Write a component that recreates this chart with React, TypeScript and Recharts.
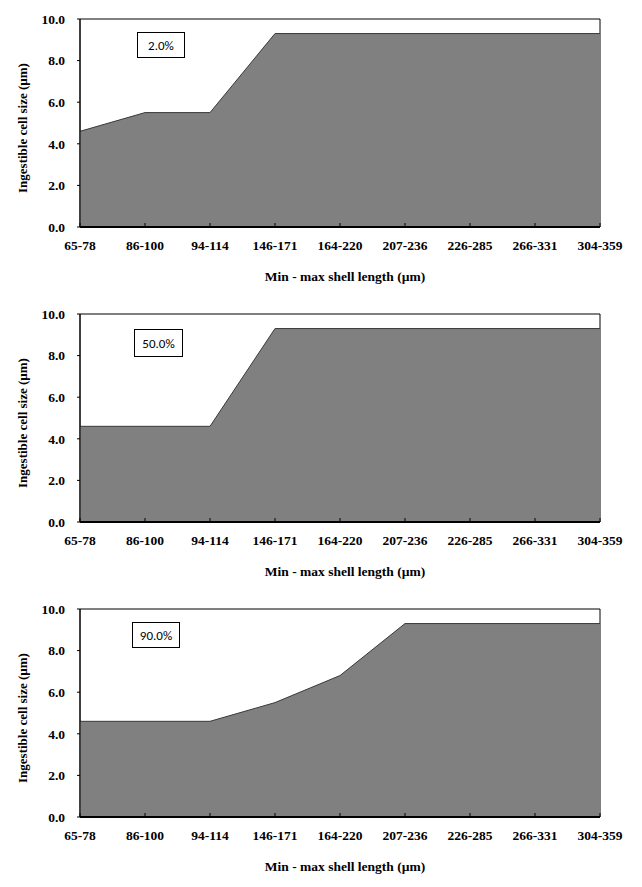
import React from "react";
import { AreaChart, Area, XAxis, YAxis, ReferenceArea } from "recharts";

const categories = ["65-78", "86-100", "94-114", "146-171", "164-220", "207-236", "226-285", "266-331", "304-359"];
const values2 = [4.6, 5.5, 5.5, 9.3, 9.3, 9.3, 9.3, 9.3, 9.3];
const values50 = [4.6, 4.6, 4.6, 9.3, 9.3, 9.3, 9.3, 9.3, 9.3];
const values90 = [4.6, 4.6, 4.6, 5.5, 6.8, 9.3, 9.3, 9.3, 9.3];
const yTicks = [0, 2, 4, 6, 8, 10];
const panelLabels = ["2.0%", "50.0%", "90.0%"];
const panelSeries = [values2, values50, values90];
const xTitle = "Min - max shell length (\u00b5m)";
const yTitle = "Ingestible cell size (\u00b5m)";

const serif = "Liberation Serif, DejaVu Serif, serif";
const boxPos = [
  { left: 137, top: 32, width: 48, height: 26 },
  { left: 134, top: 34, width: 49, height: 28 },
  { left: 132, top: 32, width: 48, height: 26 },
];

const textStyle = { fontFamily: serif, fontWeight: 700, fontSize: 13.5 };

const XTick = (props: any) => {
  const { x, y, payload } = props;
  return (
    <text x={x} y={y} dy="0.71em" textAnchor="middle" style={textStyle} fill="#000">
      {payload.value}
    </text>
  );
};

const YTick = (props: any) => {
  const { x, y, payload } = props;
  return (
    <text x={x} y={y} dy="0.355em" textAnchor="end" style={textStyle} fill="#000">
      {Number(payload.value).toFixed(1)}
    </text>
  );
};

const YTitle = (props: any) => {
  const vb = props.viewBox || {};
  const cx = 22;
  const cy = vb.y + vb.height / 2 + 5;
  return (
    <text
      x={cx}
      y={cy}
      transform={`rotate(-90, ${cx}, ${cy})`}
      textAnchor="middle"
      dominantBaseline="central"
      style={{ fontFamily: serif, fontWeight: 700, fontSize: 13 }}
      fill="#000"
    >
      {yTitle}
    </text>
  );
};

const XTitle = (props: any) => {
  const vb = props.viewBox || {};
  const cx = vb.x + vb.width / 2 + 5;
  const cy = vb.y + 49;
  return (
    <text x={cx} y={cy} textAnchor="middle" dominantBaseline="central" style={{ fontFamily: serif, fontWeight: 700, fontSize: 13.5 }} fill="#000">
      {xTitle}
    </text>
  );
};

function Panel({ idx }: { idx: number }) {
  const data = categories.map((c, i) => ({ cat: c, v: panelSeries[idx][i] }));
  const b = boxPos[idx];
  const h = idx === 2 ? 297 : 295;
  return (
    <div style={{ position: "relative", width: 642, height: h }}>
      <AreaChart width={642} height={h} data={data} margin={{ top: 19, right: 42, left: 0, bottom: 0 }}>
        <ReferenceArea x1={categories[0]} x2={categories[categories.length - 1]} y1={0} y2={10} fill="#fff" fillOpacity={0} stroke="#000" strokeWidth={1} ifOverflow="visible" />
        <Area
          type="linear"
          dataKey="v"
          stroke="#3a3a3a"
          strokeWidth={1}
          fill="#808080"
          fillOpacity={1}
          isAnimationActive={false}
          dot={false}
          activeDot={false}
        />
        <XAxis
          dataKey="cat"
          height={h - 227}
          interval={0}
          axisLine={{ stroke: "#000", strokeWidth: 2 }}
          tickLine={{ stroke: "#000" }}
          tickSize={-4}
          tickMargin={17}
          tick={<XTick />}
          label={<XTitle />}
        />
        <YAxis
          width={80}
          domain={[0, 10]}
          ticks={yTicks}
          interval={0}
          axisLine={{ stroke: "#000", strokeWidth: 1 }}
          tickLine={{ stroke: "#000" }}
          tickSize={3}
          tickMargin={12}
          tick={<YTick />}
          label={<YTitle />}
        />
      </AreaChart>
      <div
        style={{
          position: "absolute",
          left: b.left,
          top: b.top,
          width: b.width,
          height: b.height,
          boxSizing: "border-box",
          border: "1px solid #000",
          background: "#fff",
          display: "flex",
          alignItems: "center",
          justifyContent: "center",
          fontFamily: "Carlito, 'Liberation Sans', Arial, sans-serif",
          fontSize: 13,
          color: "#000",
        }}
      >
        {panelLabels[idx]}
      </div>
    </div>
  );
}

export default function App() {
  return (
    <div style={{ position: "absolute", left: 0, top: 0, width: 642, height: 887, background: "#fff" }}>
      <Panel idx={0} />
      <Panel idx={1} />
      <Panel idx={2} />
    </div>
  );
}
